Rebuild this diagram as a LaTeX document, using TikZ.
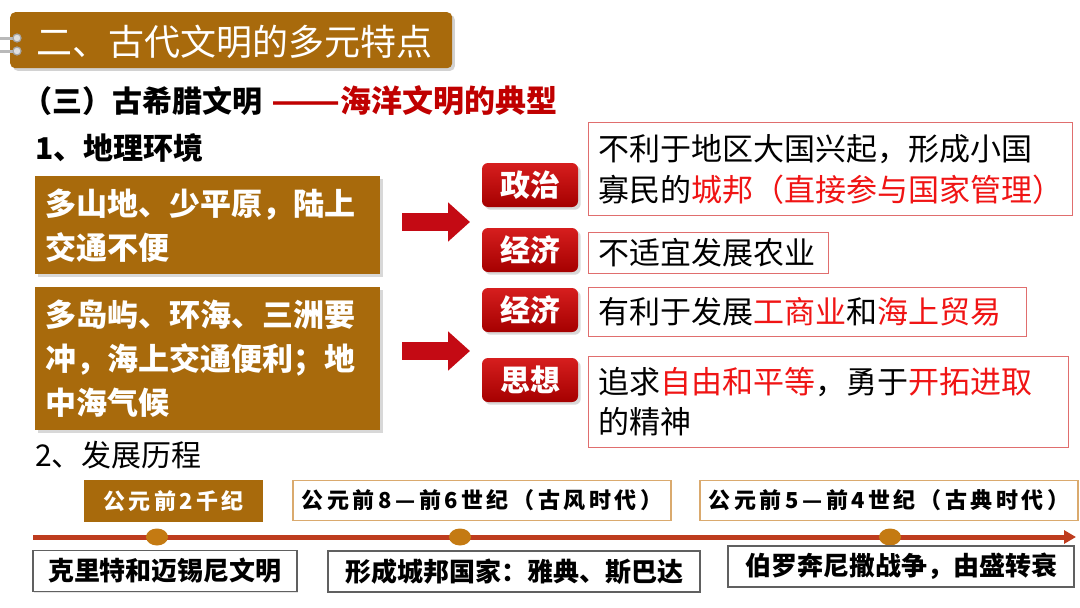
\documentclass[tikz,border=0pt]{standalone}
\usepackage{fontspec}
\setmainfont{Noto Sans CJK SC}
\usetikzlibrary{arrows.meta,shadows,shapes.geometric}
\definecolor{brownbox}{RGB}{168,106,12}
\definecolor{darkred}{RGB}{192,0,0}
\definecolor{txtred}{RGB}{240,20,20}
\definecolor{boxred}{RGB}{224,110,110}
\definecolor{arrowred}{RGB}{196,10,20}
\definecolor{lbltop}{RGB}{214,30,30}
\definecolor{lblbot}{RGB}{165,0,0}
\definecolor{tan}{RGB}{218,170,110}
\definecolor{tlred}{RGB}{190,60,30}
\definecolor{dotbrown}{RGB}{196,122,18}
\tikzset{
  plain/.style={inner sep=0, anchor=west},
  titlebox/.style={fill=brownbox, rounded corners=5, anchor=north west, drop shadow={opacity=0.35}},
  bbox/.style={fill=brownbox, text=white, anchor=north west, inner xsep=10, inner ysep=0, align=left,
    font=\bfseries\fontsize{31}{44}\selectfont, drop shadow={opacity=0.3}},
  rbox/.style={draw=boxred, line width=1.2, fill=white, anchor=north west, inner xsep=10, inner ysep=0,
    align=left, font=\fontsize{31}{41}\selectfont},
  lbl/.style={rounded corners=6, top color=lbltop, bottom color=lblbot, draw=none, text=white,
    font=\bfseries\fontsize{30}{30}\selectfont, minimum width=96, minimum height=44, inner sep=0,
    drop shadow={opacity=0.3}},
  bigarrow/.style={draw=arrowred, line width=18, -{Triangle[length=22pt,width=38pt]}},
  datebox/.style={draw=tan, line width=1.2, fill=white, minimum height=40, inner sep=0,
    font=\bfseries\fontsize{22}{22}\selectfont\addfontfeature{LetterSpace=16}},
  botbox/.style={draw=gray!75!black, line width=1.2, fill=white, minimum height=41, inner sep=0,
    font=\bfseries\fontsize{26}{26}\selectfont, drop shadow={opacity=0.2,shadow xshift=1pt,shadow yshift=-1pt}},
  dot/.style={ellipse, fill=dotbrown, minimum width=22, minimum height=17, inner sep=0},
}
\begin{document}
\begin{tikzpicture}[x=1pt,y=-1pt]
\useasboundingbox[fill=white] (0,0) rectangle (1080,608);

% title banner
\node[titlebox, minimum width=442, minimum height=56] (title) at (10,12) {};
\foreach \yy in {38,51}{
  \draw[line width=3, gray!55, line cap=round] (0,\yy) -- (15,\yy);
  \draw[fill=gray!25, draw=gray!70, line width=1.2] (17,\yy) circle (4);
}
\node[plain, text=white, font=\fontsize{36}{40}\selectfont] (titletext) at (36,42) {二、古代文明的多元特点};

% subtitle
\node[plain, font=\bfseries\fontsize{30}{34}\selectfont] (sub) at (22,101) {（三）古希腊文明};
\node[plain, text=darkred, font=\bfseries\fontsize{31}{34}\selectfont] (subred) at (271,101) {\scalebox{1.3}[1]{——}海洋文明的典型};

% section 1
\node[plain, font=\bfseries\fontsize{30}{32}\selectfont] (sec1) at (35,148) {1、地理环境};

\node[bbox, text width=325, minimum height=98] (geo1) at (35,176) {多山地、少平原，陆上\\交通不便};
\node[bbox, text width=325, minimum height=143] (geo2) at (35,287) {多岛屿、环海、三洲要\\冲，海上交通便利；地\\中海气候};

\coordinate (a1s) at (402,222);
\coordinate (a1e) at (470,222);
\coordinate (a2s) at (402,351);
\coordinate (a2e) at (470,351);
\draw[bigarrow] (a1s) -- (a1e);
\draw[bigarrow] (a2s) -- (a2e);

\node[lbl] (l1) at (530,185) {政治};
\node[lbl] (l2) at (530,250) {经济};
\node[lbl] (l3) at (530,310) {经济};
\node[lbl] (l4) at (530,380) {思想};

\node[rbox, text width=464, minimum height=93] (r1) at (588,122)
  {不利于地区大国兴起，形成小国\\寡民的\textcolor{txtred}{城邦（直接参与国家管理）}};
\node[rbox, text width=220, minimum height=41] (r2) at (588,232) {不适宜发展农业};
\node[rbox, text width=418, minimum height=49] (r3) at (588,287)
  {有利于发展\textcolor{txtred}{工商业}和\textcolor{txtred}{海上贸易}};
\node[rbox, text width=460, minimum height=91, font=\fontsize{31}{40}\selectfont] (r4) at (588,356)
  {追求\textcolor{txtred}{自由和平等}，勇于\textcolor{txtred}{开拓进取}\\的精神};

% section 2
\node[plain, font=\fontsize{30}{32}\selectfont] (sec2) at (35,455) {2、发展历程};

\coordinate (tl0) at (33,537);
\coordinate (tl1) at (1076,537);
\draw[draw=tlred, line width=5, -{Triangle[length=12pt,width=13pt]}] (tl0) -- (tl1);
\node[dot] (d1) at (157,537) {};
\node[dot] (d2) at (460,537) {};
\node[dot] (d3) at (890,537) {};

\node[datebox, fill=brownbox, draw=brownbox, text=white, minimum width=177] (t1) at (173.5,501) {公元前2千纪};
\node[datebox, minimum width=378] (t2) at (482,500.5) {公元前8—前6世纪（古风时代）};
\node[datebox, minimum width=378] (t3) at (889,500.5) {公元前5—前4世纪（古典时代）};

\node[botbox, minimum width=264] (b1) at (165,571) {克里特和迈锡尼文明};
\node[botbox, minimum width=372] (b2) at (514,571.5) {形成城邦国家：雅典、斯巴达};
\node[botbox, minimum width=346] (b3) at (901,566.5) {伯罗奔尼撒战争，由盛转衰};
\end{tikzpicture}
\end{document}
